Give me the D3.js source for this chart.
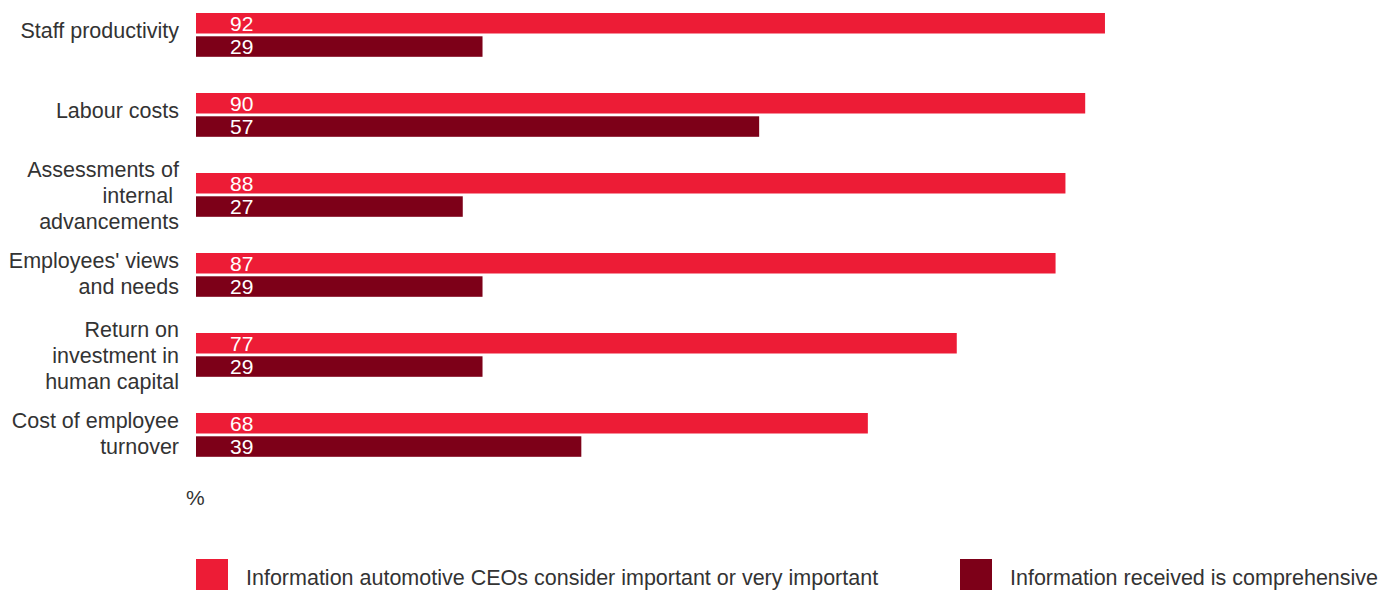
<!DOCTYPE html>
<html>
<head>
<meta charset="utf-8">
<script src="https://cdn.jsdelivr.net/npm/d3@7"></script>
<style>
  body { margin: 0; background: #fff; }
  svg { display: block; font-family: "Liberation Sans", Arial, Helvetica, sans-serif; }
</style>
</head>
<body>
<div id="chart"></div>
<script>
// Categories (label lines) and series values
var categories = [
    ["Staff productivity"],
    ["Labour costs"],
    ["Assessments of", "internal ", "advancements"],
    ["Employees' views", "and needs"],
    ["Return on", "investment in", "human capital"],
    ["Cost of employee", "turnover"]
];
var important = [92, 90, 88, 87, 77, 68];
var comprehensive = [29, 57, 27, 29, 29, 39];
var seriesNames = [
    "Information automotive CEOs consider important or very important",
    "Information received is comprehensive"
];
var colors = ["#ED1C36", "#7D0018"];

var width = 1393, height = 590;
var margin = { left: 196, top: 13 };

var svg = d3.select("#chart").append("svg")
    .attr("width", width)
    .attr("height", height);

var x = d3.scaleLinear().domain([0, 100]).range([0, 988]);

var y = d3.scaleBand()
    .domain(d3.range(categories.length))
    .range([0, 80 * categories.length])
    .paddingInner(0);

var g = svg.append("g")
    .attr("transform", "translate(" + margin.left + "," + margin.top + ")");

var barH = 20.5, gap = 2.8;

var groups = g.selectAll(".grp")
    .data(categories)
    .enter().append("g")
    .attr("class", "grp")
    .attr("transform", function(d, i) { return "translate(0," + y(i) + ")"; });

[important, comprehensive].forEach(function(series, s) {
    groups.append("rect")
        .attr("x", 0)
        .attr("y", s * (barH + gap))
        .attr("width", function(d, i) { return x(series[i]); })
        .attr("height", barH)
        .attr("fill", colors[s]);

    groups.append("text")
        .attr("x", 34)
        .attr("y", s * (barH + gap) + 17.8)
        .attr("fill", "#fff")
        .style("font-size", "21px")
        .text(function(d, i) { return series[i]; });
});

// category labels, next to the pair of bars
var lineH = 25.8;
groups.each(function(lines) {
    var first = 25.3 - (lines.length - 1) * 10.5;
    var t = d3.select(this).append("text")
        .attr("text-anchor", "end")
        .attr("fill", "#333")
        .style("font-size", "21.5px")
        .style("white-space", "pre");
    lines.forEach(function(l, k) {
        t.append("tspan")
            .attr("x", -17)
            .attr("y", first + k * lineH)
            .text(l);
    });
});

svg.append("text")
    .attr("x", 186)
    .attr("y", 505)
    .attr("fill", "#333")
    .style("font-size", "21px")
    .text("%");

// legend
var legendX = [196, 960];
var legend = svg.selectAll(".legend")
    .data(seriesNames)
    .enter().append("g")
    .attr("class", "legend")
    .attr("transform", function(d, i) { return "translate(" + legendX[i] + ",559)"; });

legend.append("rect")
    .attr("width", 32)
    .attr("height", 32)
    .attr("fill", function(d, i) { return colors[i]; });

legend.append("text")
    .attr("x", 50)
    .attr("y", 26)
    .attr("fill", "#333")
    .style("font-size", "21.5px")
    .text(function(d) { return d; });
</script>
</body>
</html>
